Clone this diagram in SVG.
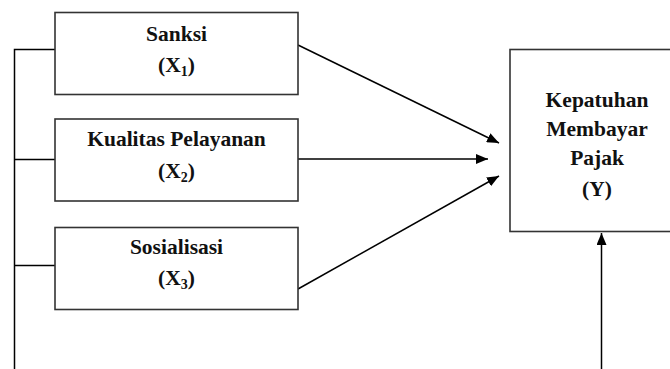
<svg xmlns="http://www.w3.org/2000/svg" width="670" height="369" viewBox="0 0 670 369">
<defs>
<style>
.box{fill:#fff;stroke:#333;stroke-width:1.6}
.ln{fill:none;stroke:#000;stroke-width:1.5}
.t{font-family:"Liberation Serif","Times New Roman",serif;font-weight:bold;font-size:21.5px;fill:#111;text-anchor:middle}
.s{font-size:14px}
</style>
<marker id="ah" viewBox="0 0 12 10" refX="12" refY="5" markerWidth="12" markerHeight="10" markerUnits="userSpaceOnUse" orient="auto">
<path d="M0,0 L12,5 L0,10 Z" fill="#000"/>
</marker>
</defs>
<rect width="670" height="369" fill="#fff"/>
<g id="connectors">
<path class="ln" d="M14.5,369 V49.5 H55 M14.5,159.5 H55 M14.5,265.5 H55"/>
<line class="ln" x1="298" y1="45" x2="499" y2="143" marker-end="url(#ah)"/>
<line class="ln" x1="298" y1="159" x2="488" y2="159" marker-end="url(#ah)"/>
<line class="ln" x1="298" y1="289" x2="499" y2="176" marker-end="url(#ah)"/>
<line class="ln" x1="601.5" y1="369" x2="601.5" y2="233" marker-end="url(#ah)"/>
</g>
<g id="x1">
<rect class="box" x="55" y="12.5" width="243" height="82"/>
<text class="t" x="176.5" y="41">Sanksi</text>
<text class="t" x="176.5" y="72">(X<tspan class="s" dy="4">1</tspan><tspan dy="-4">)</tspan></text>
</g>
<g id="x2">
<rect class="box" x="55" y="119" width="243" height="82"/>
<text class="t" x="176.5" y="146">Kualitas Pelayanan</text>
<text class="t" x="176.5" y="178">(X<tspan class="s" dy="4">2</tspan><tspan dy="-4">)</tspan></text>
</g>
<g id="x3">
<rect class="box" x="55" y="227.5" width="243" height="82"/>
<text class="t" x="176.5" y="254">Sosialisasi</text>
<text class="t" x="176.5" y="285">(X<tspan class="s" dy="4">3</tspan><tspan dy="-4">)</tspan></text>
</g>
<g id="y">
<rect class="box" x="510" y="49.5" width="180" height="182"/>
<text class="t" x="597" y="107">Kepatuhan</text>
<text class="t" x="597" y="136">Membayar</text>
<text class="t" x="597" y="165">Pajak</text>
<text class="t" x="597" y="196">(Y)</text>
</g>
</svg>
